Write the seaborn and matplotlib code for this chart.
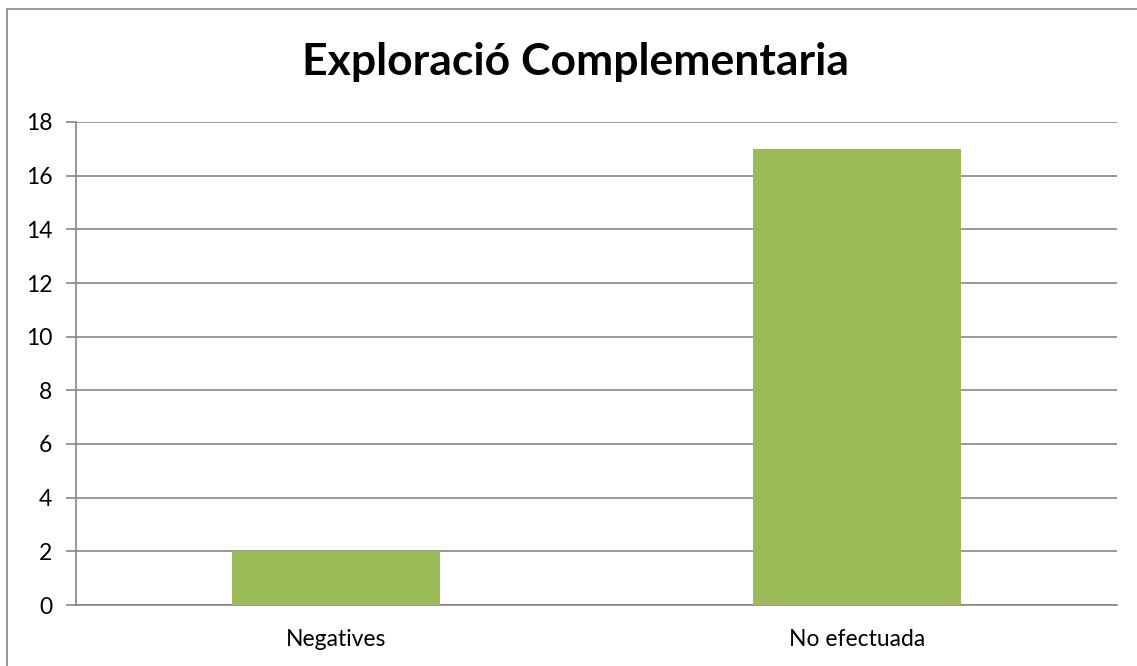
import matplotlib
matplotlib.use("Agg")
import matplotlib.pyplot as plt
import seaborn as sns
import pandas as pd
from matplotlib.patches import Rectangle

categories = ["Negatives", "No efectuada"]
values = [2, 17]
y_ticks = [0, 2, 4, 6, 8, 10, 12, 14, 16, 18]
title = "Exploració Complementaria"

sns.set_theme(style="white")
plt.rcParams["font.family"] = ["Lato", "DejaVu Sans"]

df = pd.DataFrame({"cat": categories, "val": values})

fig = plt.figure(figsize=(11.37, 6.66), dpi=100)
ax = fig.add_axes([76 / 1137, 1 - 605 / 666, (1117 - 76) / 1137, (605 - 122) / 666])

sns.barplot(data=df, x="cat", y="val", color="#9BBB59", saturation=1,
            width=0.4, linewidth=0, ax=ax, zorder=3)

grid_c = "#868686"
ax.set_ylim(0, 18)
ax.set_xlim(-0.5, 1.5)
ax.set_yticks(y_ticks)
ax.set_yticklabels([str(t) for t in y_ticks], fontsize=16.5, color="black")
ax.yaxis.grid(True, color=grid_c, linewidth=1.2, zorder=0)
ax.set_axisbelow(True)
ax.set_xticks([0, 1])
ax.set_xticklabels(categories, fontsize=16.5, color="black")
ax.set_xticks([-0.5, 0.5, 1.5], minor=True)
ax.tick_params(axis="x", which="major", length=0, pad=17)
ax.tick_params(axis="x", which="minor", length=7, width=1.2, color=grid_c, direction="out")
ax.tick_params(axis="y", which="major", length=7, width=1.2, color=grid_c, direction="out", pad=10, left=True)
ax.set_xlabel("")
ax.set_ylabel("")
for side in ["top", "right"]:
    ax.spines[side].set_visible(False)
for side in ["left", "bottom"]:
    ax.spines[side].set_visible(True)
    ax.spines[side].set_color(grid_c)
    ax.spines[side].set_linewidth(1.2)

fig.text(576 / 1137, 1 - 62 / 666, title, ha="center", va="center",
         fontsize=32, fontweight="bold", color="black")

fig.patches.append(Rectangle((7 / 1137, -0.02), 1.05, 1 - 9 / 666 + 0.02,
                             transform=fig.transFigure, fill=False,
                             edgecolor="#868686", linewidth=1.2))

fig.savefig("out.png", dpi=100)
